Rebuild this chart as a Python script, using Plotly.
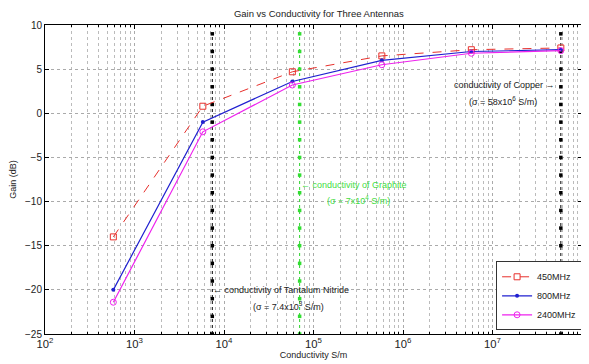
import numpy as np
import plotly.graph_objects as go

conductivity = [5.8e2, 5.8e3, 5.8e4, 5.8e5, 5.8e6, 5.8e7]
gain_450 = [-14.0, 0.8, 4.7, 6.5, 7.2, 7.4]
gain_800 = [-20.0, -1.0, 3.6, 6.0, 7.0, 7.2]
gain_2400 = [-21.4, -2.1, 3.2, 5.5, 6.8, 7.1]

sigma_tan = 7.4e3
sigma_graphite = 7e4
sigma_copper = 5.8e7
ref_y = [-25, -23, -21, -19, -17, -15, -13, -11, -9, -7, -5, -3, -1, 1, 3, 5, 7, 9]

FONT = "Liberation Sans, Arial, sans-serif"

fig = go.Figure()

for xv, col in [(sigma_tan, "black"), (sigma_graphite, "#33dd33"), (sigma_copper, "black")]:
    fig.add_trace(go.Scatter(
        x=[xv] * len(ref_y), y=ref_y, mode="lines+markers",
        line=dict(color=col, width=1, dash="dot"),
        marker=dict(symbol="square", size=3.5, color=col),
        showlegend=False, hoverinfo="skip"))

fig.add_trace(go.Scatter(x=conductivity, y=gain_450, name="450MHz", mode="lines+markers",
                         line=dict(color="#e8302c", width=1, dash="dash"),
                         marker=dict(symbol="square-open", size=6, color="#e8302c", line=dict(width=1))))
fig.add_trace(go.Scatter(x=conductivity, y=gain_800, name="800MHz", mode="lines+markers",
                         line=dict(color="#2020d0", width=1.2),
                         marker=dict(symbol="circle", size=4, color="#2020d0")))
fig.add_trace(go.Scatter(x=conductivity, y=gain_2400, name="2400MHz", mode="lines+markers",
                         line=dict(color="#ee22ee", width=1.2),
                         marker=dict(symbol="circle-open", size=6, color="#ee22ee", line=dict(width=1))))

ann_font = dict(family=FONT, size=9, color="#222222")
g_font = dict(family=FONT, size=9, color="#44dd44")
annotations = [
    dict(x=np.log10(sigma_copper), y=3.2, text="conductivity of Copper \u2192", xanchor="right",
         xshift=-4, showarrow=False, font=ann_font),
    dict(x=np.log10(sigma_copper), y=1.4, text="(\u03c3 = 58x10<sup>6</sup> S/m)", xanchor="right",
         xshift=-22, showarrow=False, font=ann_font),
    dict(x=np.log10(sigma_tan), y=-20.0, text="\u2190 conductivity of Tantalum Nitride", xanchor="left",
         xshift=-1, showarrow=False, font=ann_font),
    dict(x=np.log10(sigma_tan), y=-21.8, text="(\u03c3 = 7.4x10<sup>3</sup> S/m)", xanchor="left",
         xshift=39, showarrow=False, font=ann_font),
    dict(x=np.log10(sigma_graphite), y=-8.1, text="\u2190 conductivity of Graphite", xanchor="left",
         xshift=-1, showarrow=False, font=g_font),
    dict(x=np.log10(sigma_graphite), y=-9.8, text="(\u03c3 = 7x10<sup>4</sup> S/m)", xanchor="left",
         xshift=25, showarrow=False, font=g_font),
]

# The page body has an 8px default margin, so the figure is sized/offset to compensate.
fig.update_layout(
    width=581, height=356,
    margin=dict(l=37, r=7, t=17, b=30, autoexpand=False),
    paper_bgcolor="white", plot_bgcolor="white",
    font=dict(family=FONT, size=9, color="#222222"),
    title=dict(text="Gain vs Conductivity for Three Antennas", x=0.535, xanchor="center",
               y=0.983, yanchor="middle", font=dict(size=9.5)),
    legend=dict(x=0.84, y=0.012, xanchor="left", yanchor="bottom", bgcolor="white",
                bordercolor="#333333", borderwidth=1, font=dict(size=9),
                tracegroupgap=0, itemwidth=30),
    annotations=annotations,
)

fig.update_xaxes(
    type="log", range=[2, 8], dtick=1, exponentformat="power", automargin=False,
    showline=True, linecolor="black", linewidth=1, mirror="ticks",
    ticks="inside", ticklen=4, tickcolor="black",
    showgrid=True, gridcolor="#aaaaaa", griddash="dot", gridwidth=1,
    minor=dict(dtick="D1", showgrid=True, gridcolor="#bbbbbb", griddash="dot",
               ticks="inside", ticklen=2, tickcolor="black"),
    zeroline=False,
    title=dict(text="Conductivity S/m", standoff=2, font=dict(size=9)),
    tickfont=dict(size=9),
)
fig.update_yaxes(
    range=[-25, 10], dtick=5, automargin=False,
    showline=True, linecolor="black", linewidth=1, mirror="ticks",
    ticks="inside", ticklen=4, tickcolor="black",
    showgrid=True, gridcolor="#aaaaaa", griddash="dot", gridwidth=1,
    zeroline=False,
    title=dict(text="Gain (dB)", standoff=6, font=dict(size=9)),
    tickfont=dict(size=10),
)

fig.write_html("out.html")
